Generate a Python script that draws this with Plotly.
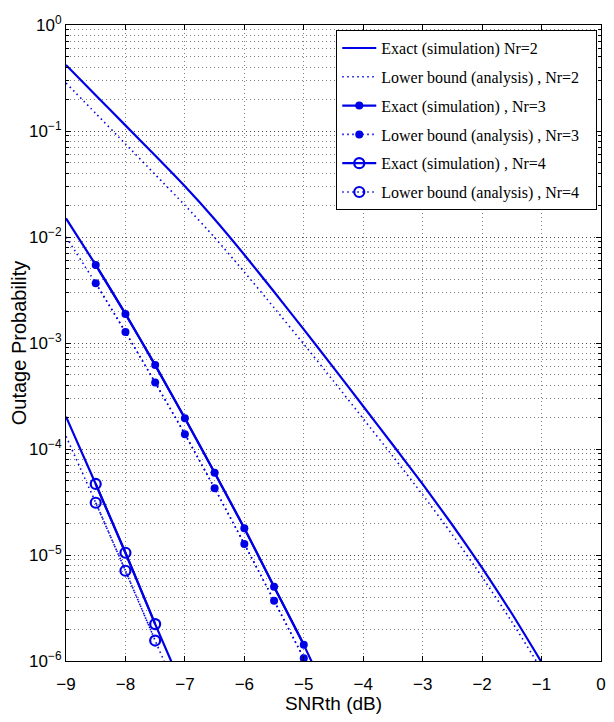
import plotly.graph_objects as go

# ---------------- data ----------------
x_nr2 = [-9, -8.5, -8, -7.5, -7, -6.5, -6, -5.5, -5, -4.5, -4, -3.5, -3, -2.5, -2, -1.5, -1]
exact_nr2 = [0.4198, 0.2178, 0.1130, 0.05861, 0.03006, 0.01472, 6.808e-3, 3.041e-3, 1.343e-3,
             5.861e-4, 2.529e-4, 1.091e-4, 4.656e-5, 1.919e-5, 7.551e-6, 2.805e-6, 9.727e-7]
bound_nr2 = [0.2838, 0.1466, 0.07551, 0.03890, 0.01995, 9.908e-3, 4.677e-3, 2.153e-3, 9.772e-4,
             4.375e-4, 1.932e-4, 8.511e-5, 3.698e-5, 1.552e-5, 6.209e-6, 2.344e-6, 8.279e-7]

x_nr3 = [-9, -8.5, -8, -7.5, -7, -6.5, -6, -5.5, -5, -4.5]
exact_nr3 = [0.0150, 5.45e-3, 1.88e-3, 6.19e-4, 1.95e-4, 5.97e-5, 1.79e-5, 5.02e-6, 1.42e-6, 3.5e-7]
bound_nr3 = [0.0100, 3.66e-3, 1.27e-3, 4.23e-4, 1.38e-4, 4.26e-5, 1.27e-5, 3.71e-6, 1.06e-6, 2.8e-7]
mark_nr3 = slice(1, 9)   # markers drawn at -8.5 ... -5

x_nr4 = [-9, -8.5, -8, -7.5, -7]
exact_nr4 = [2.02e-4, 4.68e-5, 1.05e-5, 2.23e-6, 5.0e-7]
bound_nr4 = [1.32e-4, 3.11e-5, 7.1e-6, 1.56e-6, 3.5e-7]
mark_nr4 = slice(1, 4)   # markers drawn at -8.5 ... -7.5

y_tickvals = [1, 1e-1, 1e-2, 1e-3, 1e-4, 1e-5, 1e-6]
y_ticktext = ["10<sup>0</sup>", "10<sup>−1</sup>", "10<sup>−2</sup>", "10<sup>−3</sup>",
              "10<sup>−4</sup>", "10<sup>−5</sup>", "10<sup>−6</sup>"]
x_tickvals = [-9, -8, -7, -6, -5, -4, -3, -2, -1, 0]
x_ticktext = ["−9", "−8", "−7", "−6", "−5", "−4", "−3", "−2", "−1", "0"]

names = ["Exact (simulation) Nr=2", "Lower bound (analysis) , Nr=2",
         "Exact (simulation) , Nr=3", "Lower bound (analysis) , Nr=3",
         "Exact (simulation) , Nr=4", "Lower bound (analysis) , Nr=4"]
PAD = "\u00a0\u00a0\u00a0"

BLUE = "#0000e6"
SOLID = dict(color=BLUE, width=2.2, shape="spline", smoothing=0.5)
DOTTED = dict(color=BLUE, width=1.6, dash="1.5px,3.5px", shape="spline", smoothing=0.5)
fig = go.Figure()

# Nr=2
fig.add_trace(go.Scatter(x=x_nr2, y=exact_nr2, mode="lines", name=names[0] + PAD,
                         line=SOLID, legendgroup="a"))
fig.add_trace(go.Scatter(x=x_nr2, y=bound_nr2, mode="lines", name=names[1] + PAD,
                         line=DOTTED, legendgroup="b"))

# Nr=3 : full lines (no legend) + marker traces (legend)
fig.add_trace(go.Scatter(x=x_nr3, y=exact_nr3, mode="lines", showlegend=False,
                         line=SOLID, legendgroup="c"))
fig.add_trace(go.Scatter(x=x_nr3[mark_nr3], y=exact_nr3[mark_nr3], mode="lines+markers",
                         name=names[2] + PAD, line=SOLID,
                         marker=dict(symbol="circle", size=8, color=BLUE), legendgroup="c"))
fig.add_trace(go.Scatter(x=x_nr3, y=bound_nr3, mode="lines", showlegend=False,
                         line=DOTTED, legendgroup="d"))
fig.add_trace(go.Scatter(x=x_nr3[mark_nr3], y=bound_nr3[mark_nr3], mode="lines+markers",
                         name=names[3] + PAD, line=DOTTED,
                         marker=dict(symbol="circle", size=8, color=BLUE), legendgroup="d"))

# Nr=4
fig.add_trace(go.Scatter(x=x_nr4, y=exact_nr4, mode="lines", showlegend=False,
                         line=SOLID, legendgroup="e"))
fig.add_trace(go.Scatter(x=x_nr4[mark_nr4], y=exact_nr4[mark_nr4], mode="lines+markers",
                         name=names[4] + PAD, line=SOLID,
                         marker=dict(symbol="circle-open", size=10, color=BLUE,
                                     line=dict(width=2.2, color=BLUE)), legendgroup="e"))
fig.add_trace(go.Scatter(x=x_nr4, y=bound_nr4, mode="lines", showlegend=False,
                         line=DOTTED, legendgroup="f"))
fig.add_trace(go.Scatter(x=x_nr4[mark_nr4], y=bound_nr4[mark_nr4], mode="lines+markers",
                         name=names[5] + PAD, line=DOTTED,
                         marker=dict(symbol="circle-open", size=10, color=BLUE,
                                     line=dict(width=2.2, color=BLUE)), legendgroup="f"))

GRID = "rgba(40,40,40,0.6)"
GDASH = "1px,3px"
fig.update_layout(
    width=598, height=706,
    margin=dict(l=58, r=5, t=17, b=53, autoexpand=False),
    paper_bgcolor="white", plot_bgcolor="white",
    font=dict(family="Liberation Sans, Arial, sans-serif", size=17, color="black"),
    showlegend=True,
    legend=dict(x=0.993, y=0.992, xanchor="right", yanchor="top",
                bgcolor="white", bordercolor="black", borderwidth=1,
                font=dict(family="Liberation Serif, DejaVu Serif, serif", size=16),
                traceorder="grouped", tracegroupgap=5, itemwidth=34),
    xaxis=dict(range=[-9, 0], tickvals=x_tickvals, ticktext=x_ticktext,
               ticks="inside", ticklen=5, tickcolor="black", ticklabelstandoff=8,
               showline=True, linecolor="black", linewidth=1, mirror="allticks",
               showgrid=True, gridcolor=GRID, griddash=GDASH, gridwidth=1,
               zeroline=False, automargin=False,
               title=dict(text="SNRth (dB)", font=dict(size=19), standoff=6)),
    yaxis=dict(type="log", range=[-6, 0], tickvals=y_tickvals, ticktext=y_ticktext,
               ticks="inside", ticklen=5, tickcolor="black",
               showline=True, linecolor="black", linewidth=1, mirror="allticks",
               showgrid=True, gridcolor=GRID, griddash=GDASH, gridwidth=1,
               zeroline=False, automargin=False,
               minor=dict(dtick="D1", ticks="inside", ticklen=3, tickcolor="black",
                          showgrid=True, gridcolor=GRID, griddash=GDASH, gridwidth=1),
               title=dict(text="Outage Probability", font=dict(size=20), standoff=4)),
)

fig.write_html("out.html")
